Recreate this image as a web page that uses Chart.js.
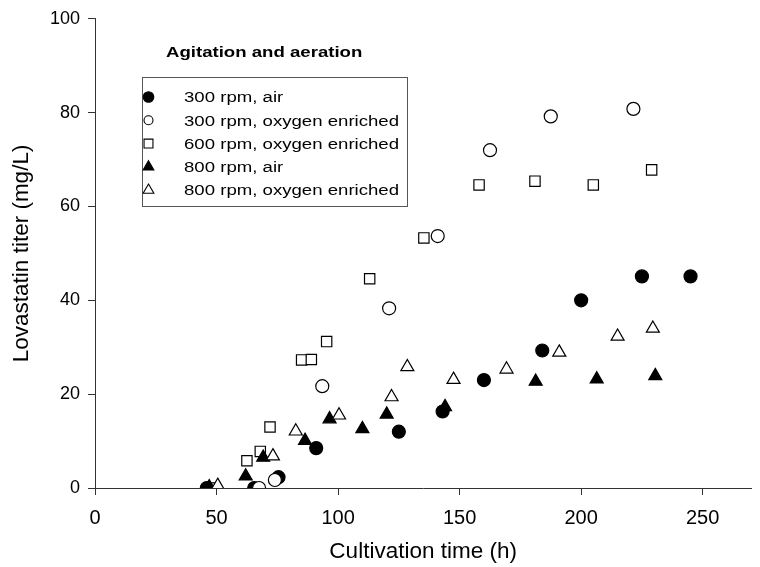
<!DOCTYPE html>
<html>
<head>
<meta charset="utf-8">
<script src="https://cdn.jsdelivr.net/npm/chart.js@4.4.1/dist/chart.umd.min.js"></script>
<style>
  html, body { margin: 0; padding: 0; background: #fff; }
  #wrap { width: 760px; height: 567px; }
</style>
</head>
<body>
<div id="wrap"><canvas id="lovChart" width="760" height="567"></canvas></div>
<script>
// series (time in h, titer in mg/L)
const seriesNames = ['300 rpm, air', '300 rpm, oxygen enriched', '600 rpm, oxygen enriched', '800 rpm, air', '800 rpm, oxygen enriched'];

const air300X = [46, 65.5, 75.5, 91, 125, 143, 160, 184, 200, 225, 245];
const air300Y = [0, 0, 2.3, 8.5, 12, 16.3, 23, 29.3, 40, 45.1, 45.1];

const oxy300X = [67.5, 74, 93.5, 121, 141, 162.5, 187.5, 221.5];
const oxy300Y = [0, 1.7, 21.7, 38.3, 53.7, 72, 79.2, 80.8];

const oxy600X = [48.5, 62.5, 68, 72, 85, 89, 95.3, 113, 135.3, 158, 181, 205, 229];
const oxy600Y = [0, 5.8, 7.8, 13, 27.3, 27.4, 31.2, 44.6, 53.3, 64.6, 65.4, 64.6, 67.8];

const air800X = [47, 62, 69.2, 86.4, 96.5, 110, 120, 144, 181.3, 206.4, 230.5];
const air800Y = [0.2, 2.5, 6.5, 10.1, 14.7, 12.6, 15.7, 17.3, 22.7, 23.2, 23.9];

const oxy800X = [50.5, 73.2, 82.6, 100.4, 122, 128.5, 147.5, 169.3, 191, 215, 229.5];
const oxy800Y = [0.5, 6.8, 12.1, 15.5, 19.4, 25.8, 23.1, 25.3, 28.9, 32.3, 34];

const xTicks = [0, 50, 100, 150, 200, 250];
const yTicks = [0, 20, 40, 60, 80, 100];

const FONT = "Arial, 'Liberation Sans', sans-serif";
const TEXT_STRETCH = 1.2; // legend lettering in the figure is wider than plain Arial

function toPoints(xs, ys) {
    return xs.map((x, i) => ({ x: x, y: ys[i] }));
}

const markerStyles = [
    { pointStyle: 'circle',   fill: '#000', radius: 6.5, legendR: 5.3 },
    { pointStyle: 'circle',   fill: '#fff', radius: 6.5, legendR: 4.5 },
    { pointStyle: 'rect',     fill: '#fff', radius: 7.3, legendR: 6.3 },
    { pointStyle: 'triangle', fill: '#000', radius: 7.5, legendR: 6.2 },
    { pointStyle: 'triangle', fill: '#fff', radius: 7.5, legendR: 6.2 }
];

const allData = [
    toPoints(air300X, air300Y),
    toPoints(oxy300X, oxy300Y),
    toPoints(oxy600X, oxy600Y),
    toPoints(air800X, air800Y),
    toPoints(oxy800X, oxy800Y)
];

const datasets = allData.map((pts, i) => ({
    label: seriesNames[i],
    data: pts,
    pointStyle: markerStyles[i].pointStyle,
    pointRadius: markerStyles[i].radius,
    pointHoverRadius: markerStyles[i].radius,
    backgroundColor: markerStyles[i].fill,
    borderColor: '#000',
    pointBorderWidth: 1.2,
    showLine: false,
    order: 5 - i // later series sit on top
}));

// small marker drawer for the in-plot legend
function drawMarker(ctx, style, fill, r, x, y) {
    ctx.save();
    ctx.beginPath();
    if (style === 'circle') {
        ctx.arc(x, y, r, 0, Math.PI * 2);
    } else if (style === 'rect') {
        const s = r * Math.SQRT1_2;
        ctx.rect(x - s, y - s, 2 * s, 2 * s);
    } else {
        ctx.moveTo(x, y - r);
        ctx.lineTo(x + r * 0.866, y + r / 2);
        ctx.lineTo(x - r * 0.866, y + r / 2);
        ctx.closePath();
    }
    ctx.fillStyle = fill;
    ctx.fill();
    ctx.lineWidth = 1.1;
    ctx.strokeStyle = '#000';
    ctx.stroke();
    ctx.restore();
}

function wideText(ctx, text, x, y) {
    ctx.save();
    ctx.translate(x, y);
    ctx.scale(TEXT_STRETCH, 1);
    ctx.fillText(text, 0, 0);
    ctx.restore();
}

const boxLegend = {
    id: 'boxLegend',
    afterDatasetsDraw(chart) {
        const ctx = chart.ctx;
        ctx.save();
        ctx.fillStyle = '#000';
        ctx.font = 'bold 15.5px ' + FONT;
        ctx.textBaseline = 'middle';
        ctx.textAlign = 'left';
        wideText(ctx, 'Agitation and aeration', 166, 53);

        ctx.strokeStyle = '#555';
        ctx.lineWidth = 1;
        ctx.strokeRect(142.5, 77.5, 265, 129);

        ctx.font = '15.5px ' + FONT;
        chart.data.datasets.forEach((ds, i) => {
            const y = 97 + i * 23.3;
            const m = markerStyles[i];
            drawMarker(ctx, m.pointStyle, m.fill, m.legendR, 148.5, y);
            ctx.fillStyle = '#000';
            wideText(ctx, ds.label, 184, y + 1);
        });
        ctx.restore();
    }
};

new Chart(document.getElementById('lovChart'), {
    type: 'scatter',
    data: { datasets: datasets },
    plugins: [boxLegend],
    options: {
        responsive: false,
        animation: false,
        events: [],
        layout: { padding: { top: 17, right: 3, left: 0, bottom: 0 } },
        plugins: {
            legend: { display: false },
            tooltip: { enabled: false }
        },
        scales: {
            x: {
                type: 'linear',
                min: 0,
                max: 270,
                afterFit: (scale) => { scale.height = 79; },
                afterBuildTicks: (scale) => { scale.ticks = xTicks.map(v => ({ value: v })); },
                grid: { drawOnChartArea: false, drawTicks: true, tickLength: 7, color: '#333' },
                border: { color: '#333', width: 1 },
                ticks: { color: '#000', font: { family: FONT, size: 20 }, padding: 11, maxRotation: 0 },
                title: {
                    display: true,
                    text: 'Cultivation time (h)',
                    color: '#000',
                    font: { family: FONT, size: 22.5 },
                    padding: { top: 0, bottom: 1.5 }
                }
            },
            y: {
                type: 'linear',
                min: 0,
                max: 100,
                afterFit: (scale) => { scale.width = 95; },
                afterBuildTicks: (scale) => { scale.ticks = yTicks.map(v => ({ value: v })); },
                grid: { drawOnChartArea: false, drawTicks: true, tickLength: 7, color: '#333' },
                border: { color: '#333', width: 1 },
                ticks: { color: '#000', font: { family: FONT, size: 18 }, padding: 8 },
                title: {
                    display: true,
                    text: 'Lovastatin titer (mg/L)',
                    color: '#000',
                    font: { family: FONT, size: 22.5 },
                    padding: { top: 8.5, bottom: 0 }
                }
            }
        }
    }
});
</script>
</body>
</html>
